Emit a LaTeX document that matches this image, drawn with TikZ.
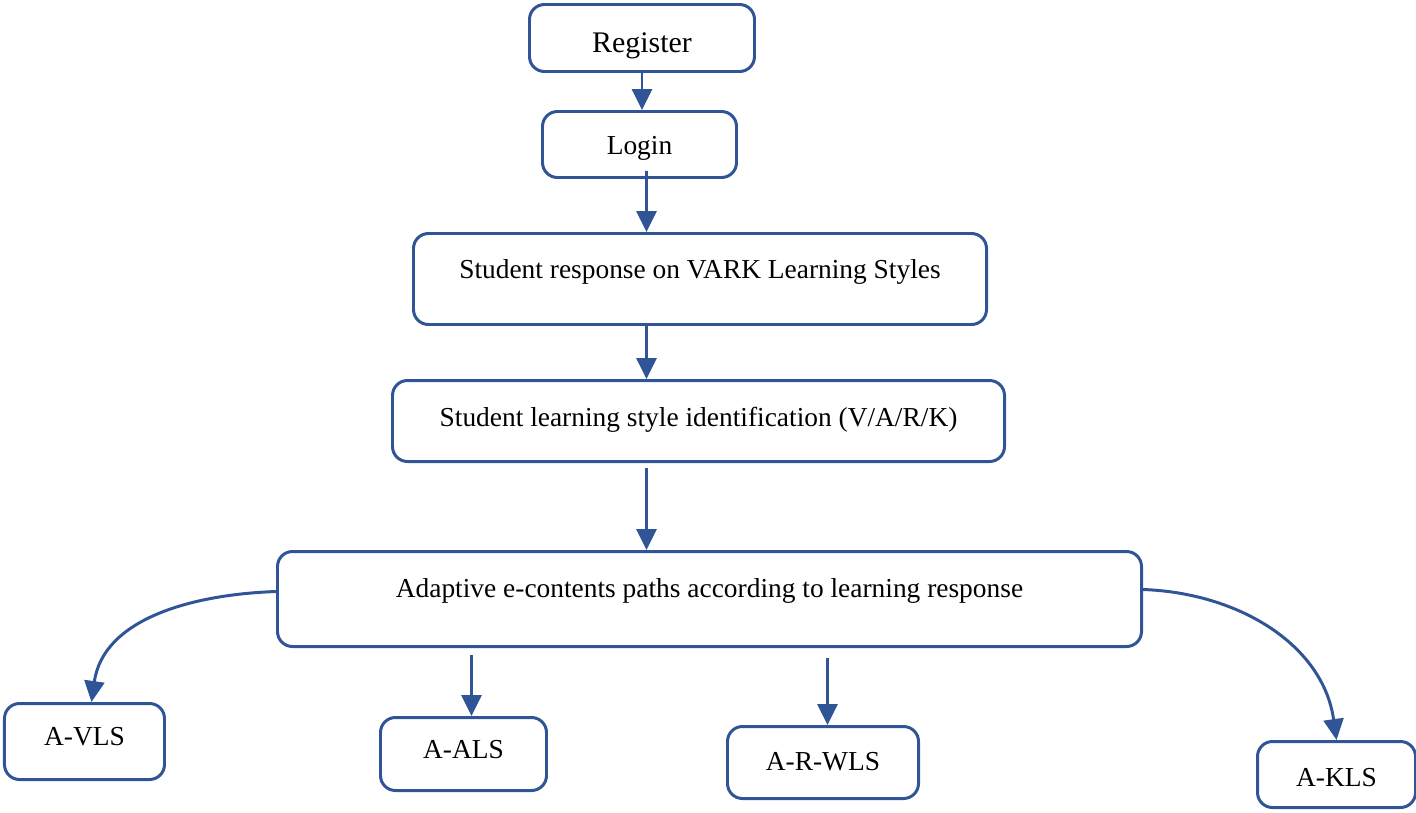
\documentclass[tikz,border=0pt]{standalone}
\usepackage{fontspec}
\setmainfont{Liberation Serif}
\usetikzlibrary{arrows.meta}
\definecolor{flowblue}{RGB}{47,85,151}

\begin{document}
\begin{tikzpicture}
\tikzstyle{block}=[draw=flowblue,line width=1.7pt,rounded corners=0.3cm,anchor=north west,inner xsep=0pt,inner ysep=0pt,font=\fontsize{15.6}{18}\selectfont]
\tikzstyle{flow}=[draw=flowblue,line width=1.7pt,-{Triangle[width=0.4cm,length=0.42cm]}]

\useasboundingbox (0,0) rectangle (28.32,-16.24);

\node[block,minimum width=4.5cm,text height=0.96cm,text depth=0.38cm,font=\fontsize{17}{20}\selectfont] (reg) at (10.56,-0.06) {Register};
\node[block,minimum width=3.88cm,text height=0.86cm,text depth=0.46cm] (login) at (10.82,-2.20) {Login};
\node[block,minimum width=11.46cm,text height=0.9cm,text depth=0.92cm] (resp) at (8.24,-4.64) {Student response on VARK Learning Styles};
\node[block,minimum width=12.24cm,text height=0.92cm,text depth=0.70cm] (ident) at (7.82,-7.58) {Student learning style identification (V/A/R/K)};
\node[block,minimum width=17.28cm,text height=0.92cm,text depth=0.98cm] (adapt) at (5.52,-11.00) {Adaptive e-contents paths according to learning response};

\node[block,minimum width=3.2cm,text height=0.84cm,text depth=0.68cm] (vls) at (0.06,-14.04) {A-VLS};
\node[block,minimum width=3.32cm,text height=0.82cm,text depth=0.64cm] (als) at (7.58,-14.32) {A-ALS};
\node[block,minimum width=3.82cm,text height=0.88cm,text depth=0.56cm] (rwls) at (14.52,-14.50) {A-R-WLS};
\node[block,minimum width=3.16cm,text height=0.9cm,text depth=0.42cm] (kls) at (25.12,-14.80) {A-KLS};

\path (reg.south) edge[flow] (reg.south |- login.north);
\path ([xshift=0.14cm,yshift=0.16cm]login.south) edge[flow] ([xshift=-1.07cm]resp.north);
\path ([xshift=-1.07cm]resp.south) edge[flow] ([xshift=-1.04cm]ident.north);
\path ([xshift=-1.04cm,yshift=-0.1cm]ident.south) edge[flow] ([xshift=-1.26cm]adapt.north);

\path ([yshift=0.15cm]adapt.west) edge[flow,out=182,in=82] ([xshift=0.14cm]vls.north);
\path ([xshift=-4.76cm,yshift=-0.14cm]adapt.south) edge[flow] ([xshift=0.16cm]als.north);
\path ([xshift=2.36cm,yshift=-0.2cm]adapt.south) edge[flow] ([xshift=0.09cm]rwls.north);
\path ([yshift=0.19cm]adapt.east) edge[flow,out=-2,in=98] (kls.north);
\end{tikzpicture}
\end{document}
